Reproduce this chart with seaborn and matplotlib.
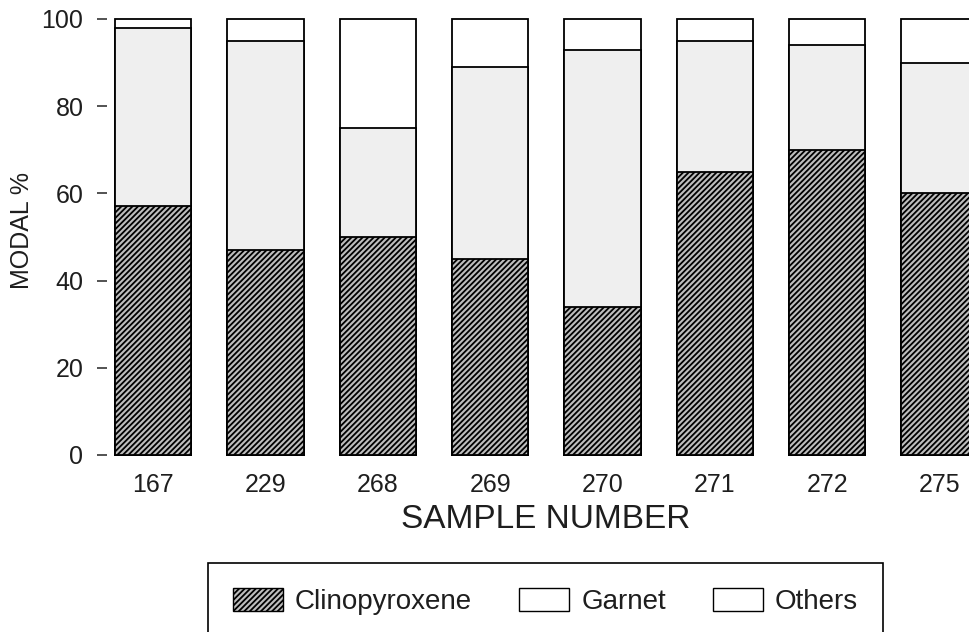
import matplotlib
matplotlib.use("Agg")
import matplotlib.pyplot as plt
import seaborn as sns
import pandas as pd
from matplotlib.patches import Patch

samples = ["167", "229", "268", "269", "270", "271", "272", "275"]
clinopyroxene = [57, 47, 50, 45, 34, 65, 70, 60]
garnet = [41, 48, 25, 44, 59, 30, 24, 30]
others = [2, 5, 25, 11, 7, 5, 6, 10]

sns.set_theme(style="white")
plt.rcParams["font.family"] = ["Liberation Sans", "DejaVu Sans"]
plt.rcParams["hatch.linewidth"] = 1.3
plt.rcParams["hatch.color"] = "#111111"

df = pd.DataFrame({"sample": samples, "cpx": clinopyroxene, "grt": garnet, "oth": others})
df["grt_top"] = df["cpx"] + df["grt"]
df["oth_top"] = df["grt_top"] + df["oth"]

fig = plt.figure(figsize=(9.7, 6.32), dpi=100)
ax = fig.add_axes([107 / 970, 1 - 455 / 632, 1 - 107 / 970, (455 - 19) / 632])

w = 0.68
cpx_color = "#bdbdbd"
cpx_hatch = "//////"
layers = [
    ("oth_top", "white", None),
    ("grt_top", "#efefef", None),
    ("cpx", cpx_color, cpx_hatch),
]
for col, fc, hatch in layers:
    n0 = len(ax.patches)
    sns.barplot(data=df, x="sample", y=col, color=fc, width=w, ax=ax,
                saturation=1, edgecolor="black", linewidth=1.3, errorbar=None)
    for p in ax.patches[n0:]:
        p.set_facecolor(fc)
        p.set_clip_on(False)
        if hatch:
            p.set_hatch(hatch)

ax.set_xlim(-0.41, 7.27)
ax.set_ylim(0, 100)
ax.set_yticks([0, 20, 40, 60, 80, 100])
for s in ax.spines.values():
    s.set_visible(False)
ax.tick_params(axis="y", left=True, length=7, width=1.3, color="#444444",
               pad=10, labelsize=18, labelcolor="#1e1e1e")
ax.tick_params(axis="x", bottom=False, pad=7, labelsize=18, labelcolor="#1e1e1e")
ax.set_xlabel("")
ax.set_ylabel("")
fig.text(22 / 970, 1 - 231 / 632, "MODAL %", fontsize=18, color="#1e1e1e",
         ha="center", va="center", rotation=90)
fig.text(546 / 970, 1 - 519 / 632, "SAMPLE NUMBER", fontsize=24, color="#1e1e1e",
         ha="center", va="center")

handles = [
    Patch(facecolor=cpx_color, edgecolor="black", hatch=cpx_hatch, linewidth=1.0, label="Clinopyroxene"),
    Patch(facecolor="white", edgecolor="black", linewidth=1.0, label="Garnet"),
    Patch(facecolor="white", edgecolor="black", linewidth=1.0, label="Others"),
]
leg = fig.legend(handles=handles, loc="upper left", bbox_to_anchor=(208 / 970, 1 - 563 / 632),
                 ncol=3, fontsize=20, frameon=True, fancybox=False, framealpha=1,
                 edgecolor="black", borderpad=0.9, borderaxespad=0, handlelength=1.8,
                 handleheight=0.9, handletextpad=0.43, columnspacing=1.7)
leg.get_frame().set_linewidth(1.2)
for t in leg.get_texts():
    t.set_color("#1e1e1e")

fig.savefig("out.png", dpi=100)
